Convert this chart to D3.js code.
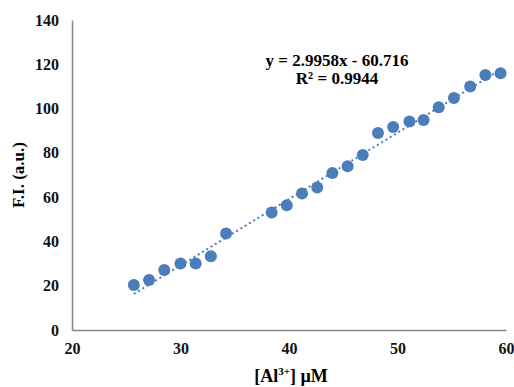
<!DOCTYPE html>
<html>
<head>
<meta charset="utf-8">
<script src="https://cdn.jsdelivr.net/npm/d3@7"></script>
<style>
body { margin: 0; background: white; }
text { font-family: "Liberation Serif", "Times New Roman", serif; font-weight: bold; }
</style>
</head>
<body>
<div id="chart"></div>
<script>
let width = 514;
let height = 387;

// data
let concentrations = [25.7, 27.1, 28.5, 30.0, 31.4, 32.8, 34.2, 38.4, 39.8, 41.2, 42.6, 44.0, 45.4, 46.8, 48.2, 49.6, 51.1, 52.4, 53.8, 55.2, 56.7, 58.1, 59.5];
let intensities = [20.3, 22.6, 27.1, 30.0, 30.0, 33.3, 43.6, 53.1, 56.3, 61.6, 64.4, 70.9, 73.9, 79.0, 89.0, 91.7, 94.2, 94.8, 100.6, 104.8, 110.0, 115.2, 115.9];
let xTicks = [20, 30, 40, 50, 60];
let yTicks = [0, 20, 40, 60, 80, 100, 120, 140];
let slope = 2.9958;
let intercept = -60.716;
let rSquared = "0.9944";

let svg = d3.select("#chart").append("svg")
	.attr("width", width)
	.attr("height", height);

svg.append("rect")
	.attr("width", width)
	.attr("height", height)
	.attr("fill", "white");

let xScale = d3.scaleLinear()
	.domain([20, 60])
	.range([72, 506]);

let yScale = d3.scaleLinear()
	.domain([0, 140])
	.range([330, 20]);

let xAxis = d3.axisBottom(xScale)
	.tickValues(xTicks)
	.tickSize(0)
	.tickPadding(13);

let yAxis = d3.axisLeft(yScale)
	.tickValues(yTicks)
	.tickSize(0)
	.tickPadding(13);

let gx = svg.append("g")
	.attr("transform", `translate(0,${yScale(0)})`)
	.call(xAxis);

let gy = svg.append("g")
	.attr("transform", `translate(${xScale(20)},0)`)
	.call(yAxis);

[gx, gy].forEach(g => {
	g.select(".domain").attr("stroke", "#868686").attr("stroke-width", 1.5);
	g.selectAll("text")
		.attr("font-family", "Liberation Serif")
		.attr("font-weight", "bold")
		.attr("font-size", 16)
		.attr("fill", "#111");
});

// trend line
let xMin = d3.min(concentrations);
let xMax = d3.max(concentrations);
svg.append("line")
	.attr("x1", xScale(xMin))
	.attr("y1", yScale(slope * xMin + intercept))
	.attr("x2", xScale(xMax))
	.attr("y2", yScale(slope * xMax + intercept))
	.attr("stroke", "#4a7ebb")
	.attr("stroke-width", 2)
	.attr("stroke-dasharray", "2,3");

svg.selectAll("circle")
	.data(concentrations)
	.enter()
	.append("circle")
	.attr("cx", d => xScale(d))
	.attr("cy", (d, i) => yScale(intensities[i]))
	.attr("r", 6)
	.attr("fill", "#4a7ebb");

// equation
svg.append("text")
	.attr("x", 337)
	.attr("y", 66)
	.attr("text-anchor", "middle")
	.attr("font-size", 17)
	.text(`y = ${slope}x - ${Math.abs(intercept)}`);

svg.append("text")
	.attr("x", 337)
	.attr("y", 84)
	.attr("text-anchor", "middle")
	.attr("font-size", 17)
	.text(`R² = ${rSquared}`);

// axis titles
svg.append("text")
	.attr("transform", "translate(24,175) rotate(-90)")
	.attr("text-anchor", "middle")
	.attr("font-size", 17)
	.text("F.I. (a.u.)");

let xt = svg.append("text")
	.attr("x", 291)
	.attr("y", 382)
	.attr("text-anchor", "middle")
	.attr("font-size", 18);
xt.append("tspan").text("[Al");
xt.append("tspan").attr("dy", -7).attr("font-size", 11).text("3+");
xt.append("tspan").attr("dy", 7).text("] µM");
</script>
</body>
</html>
